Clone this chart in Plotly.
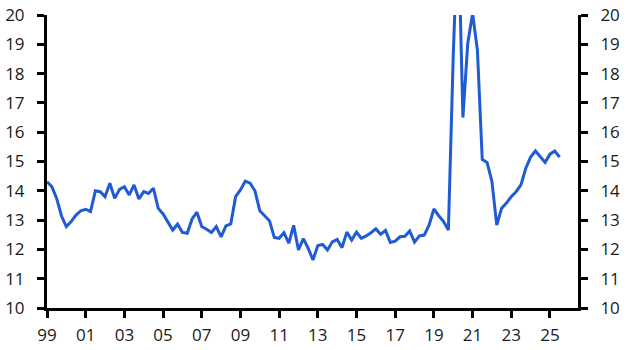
import plotly.graph_objects as go

start_year = 1999
values = [
    14.31, 14.14, 13.74, 13.14,
    12.78, 12.95, 13.17, 13.32,
    13.37, 13.29, 14.00, 13.97,
    13.80, 14.26, 13.74, 14.05,
    14.14, 13.86, 14.20, 13.72,
    13.97, 13.91, 14.09, 13.40,
    13.21, 12.95, 12.66, 12.86,
    12.58, 12.55, 13.04, 13.27,
    12.78, 12.69, 12.58, 12.78,
    12.43, 12.80, 12.87, 13.80,
    14.03, 14.33, 14.26, 14.00,
    13.32, 13.15, 12.98, 12.41,
    12.38, 12.57, 12.21, 12.82,
    11.98, 12.37, 12.04, 11.64,
    12.13, 12.17, 11.98, 12.26,
    12.34, 12.06, 12.59, 12.32,
    12.59, 12.38, 12.46, 12.57,
    12.70, 12.52, 12.65, 12.24,
    12.28, 12.43, 12.45, 12.63,
    12.25, 12.46, 12.49, 12.83,
    13.38, 13.15, 12.95, 12.66,
    18.60, 23.20, 16.50, 19.03,
    20.05, 18.80, 15.07, 14.97,
    14.32, 12.83, 13.40, 13.58,
    13.80, 13.97, 14.20, 14.77,
    15.15, 15.36, 15.15, 14.97,
    15.25, 15.36, 15.15,
]
dates = [start_year + i * 0.25 for i in range(len(values))]

tick_years = list(range(1999, 2026, 2))
tick_labels = ["99", "01", "03", "05", "07", "09", "11", "13", "15", "17", "19", "21", "23", "25"]
y_ticks = list(range(10, 21))

line_color = "#1f5bd3"
font = dict(family="Open Sans", size=17, color="#1a1a1a")

fig = go.Figure()
fig.add_trace(go.Scatter(x=dates, y=values, mode="lines",
                         line=dict(color=line_color, width=3), showlegend=False,
                         hoverinfo="skip"))
fig.add_trace(go.Scatter(x=dates, y=values, mode="lines", yaxis="y2",
                         line=dict(color="rgba(0,0,0,0)", width=0), showlegend=False,
                         hoverinfo="skip"))

fig.update_layout(
    width=632, height=350,
    margin=dict(l=47, r=54, t=15, b=42, autoexpand=False),
    paper_bgcolor="white", plot_bgcolor="white",
    font=font,
    xaxis=dict(range=[1999, 2026.45], tickvals=tick_years, ticktext=tick_labels,
               showgrid=False, zeroline=False, showline=True, linecolor="black",
               linewidth=3, ticks="outside", ticklen=7, tickwidth=3, tickcolor="black",
               ticklabelstandoff=3, automargin=False),
    yaxis=dict(range=[10, 20], tickvals=y_ticks, showgrid=False, zeroline=False,
               showline=True, linecolor="black", linewidth=3, ticks="outside",
               ticklen=7, tickwidth=3, tickcolor="black", ticklabelstandoff=9,
               automargin=False),
    yaxis2=dict(range=[10, 20], tickvals=y_ticks, overlaying="y", side="right",
                showgrid=False, zeroline=False, showline=True, linecolor="black",
                linewidth=3, ticks="outside", ticklen=7, tickwidth=3, tickcolor="black",
                ticklabelstandoff=9, automargin=False),
)

fig.write_html("out.html")
